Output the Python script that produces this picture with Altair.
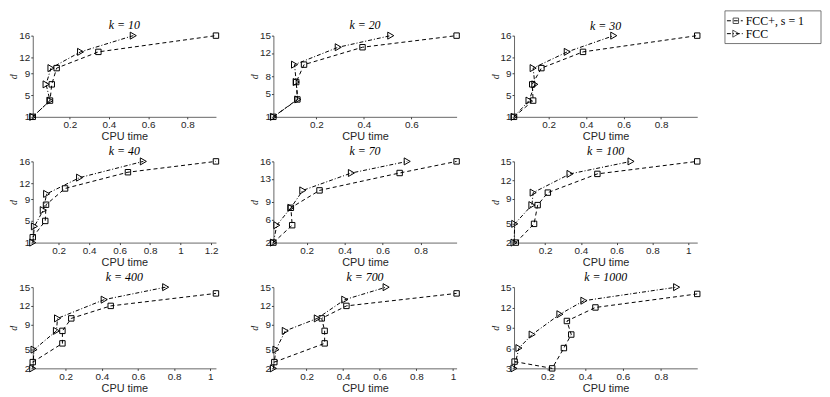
import altair as alt
import pandas as pd

# ---- data (CPU time vs d) ----
K_VALUES = [10, 20, 30, 40, 70, 100, 400, 700, 1000]

t_fccp_10 = [0.011, 0.099, 0.108, 0.133, 0.346, 0.946]
d_fccp_10 = [1, 4, 7, 10, 13, 16]
t_fcc_10 = [0.011, 0.099, 0.079, 0.104, 0.255, 0.524]
d_fcc_10 = [1, 4, 7, 10, 13, 16]

t_fccp_20 = [0.019, 0.120, 0.115, 0.148, 0.394, 0.790]
d_fccp_20 = [1, 4, 7, 10, 13, 15]
t_fcc_20 = [0.019, 0.122, 0.115, 0.108, 0.292, 0.513]
d_fcc_20 = [1, 4, 7, 10, 13, 15]

t_fccp_30 = [0.016, 0.118, 0.113, 0.162, 0.384, 0.993]
d_fccp_30 = [1, 4, 7, 10, 13, 16]
t_fcc_30 = [0.016, 0.096, 0.127, 0.118, 0.300, 0.548]
d_fcc_30 = [1, 4, 7, 10, 13, 16]

t_fccp_40 = [0.031, 0.113, 0.118, 0.243, 0.655, 1.232]
d_fccp_40 = [2, 5, 8, 11, 14, 16]
t_fcc_40 = [0.031, 0.042, 0.100, 0.122, 0.338, 0.756]
d_fcc_40 = [1, 4, 7, 10, 13, 16]

t_fccp_70 = [0.025, 0.124, 0.117, 0.268, 0.690, 0.990]
d_fccp_70 = [2, 5, 8, 11, 14, 16]
t_fcc_70 = [0.025, 0.043, 0.117, 0.180, 0.436, 0.730]
d_fcc_70 = [2, 5, 8, 11, 14, 16]

t_fccp_100 = [0.036, 0.138, 0.158, 0.215, 0.492, 1.050]
d_fccp_100 = [2, 5, 8, 10, 13, 15]
t_fcc_100 = [0.026, 0.030, 0.126, 0.133, 0.339, 0.680]
d_fcc_100 = [2, 5, 8, 10, 13, 15]

t_fccp_400 = [0.018, 0.182, 0.182, 0.231, 0.449, 1.031]
d_fccp_400 = [3, 6, 8, 10, 12, 14]
t_fcc_400 = [0.018, 0.025, 0.149, 0.155, 0.413, 0.753]
d_fcc_400 = [2, 5, 8, 10, 13, 15]

t_fccp_700 = [0.024, 0.299, 0.299, 0.283, 0.418, 1.020]
d_fccp_700 = [3, 6, 8, 10, 12, 14]
t_fcc_700 = [0.019, 0.033, 0.084, 0.259, 0.409, 0.635]
d_fcc_700 = [2, 5, 8, 10, 13, 15]

t_fccp_1000 = [0.026, 0.225, 0.287, 0.326, 0.303, 0.454, 0.993]
d_fccp_1000 = [4, 3, 6, 8, 10, 12, 14]
t_fcc_1000 = [0.023, 0.049, 0.119, 0.266, 0.393, 0.884]
d_fcc_1000 = [3, 6, 8, 11, 13, 15]

Y_TICKS = {
    10: [1, 5, 9, 12, 16],
    20: [1, 5, 8, 12, 15],
    30: [1, 5, 9, 12, 16],
    40: [1, 5, 9, 12, 16],
    70: [2, 6, 9, 13, 16],
    100: [2, 5, 9, 12, 15],
    400: [2, 5, 9, 12, 15],
    700: [2, 5, 9, 12, 15],
    1000: [3, 6, 9, 12, 15],
}

SERIES = {
    10: (t_fccp_10, d_fccp_10, t_fcc_10, d_fcc_10),
    20: (t_fccp_20, d_fccp_20, t_fcc_20, d_fcc_20),
    30: (t_fccp_30, d_fccp_30, t_fcc_30, d_fcc_30),
    40: (t_fccp_40, d_fccp_40, t_fcc_40, d_fcc_40),
    70: (t_fccp_70, d_fccp_70, t_fcc_70, d_fcc_70),
    100: (t_fccp_100, d_fccp_100, t_fcc_100, d_fcc_100),
    400: (t_fccp_400, d_fccp_400, t_fcc_400, d_fcc_400),
    700: (t_fccp_700, d_fccp_700, t_fcc_700, d_fcc_700),
    1000: (t_fccp_1000, d_fccp_1000, t_fcc_1000, d_fcc_1000),
}

PW, PH = 185, 82
LEG_TOP = -25
LX = 213  # legend box left, relative to the top-right panel's plot area


def legend_layers():
    one = pd.DataFrame({"a": [0]})
    base = alt.Chart(one)
    y1, y2 = LEG_TOP + 10, LEG_TOP + 23
    box = base.mark_rect(fill="white", stroke="#555555", strokeWidth=0.8).encode(
        x=alt.value(LX), x2=alt.value(LX + 97), y=alt.value(LEG_TOP), y2=alt.value(LEG_TOP + 33))
    l1 = base.mark_rule(color="black", strokeWidth=1, strokeDash=[4, 3]).encode(
        x=alt.value(LX + 2), x2=alt.value(LX + 18), y=alt.value(y1))
    m1 = base.mark_point(shape="square", filled=False, color="black", size=30, strokeWidth=1).encode(
        x=alt.value(LX + 11), y=alt.value(y1))
    l2 = base.mark_rule(color="black", strokeWidth=1, strokeDash=[4, 2, 1, 2]).encode(
        x=alt.value(LX + 2), x2=alt.value(LX + 18), y=alt.value(y2))
    m2 = base.mark_point(shape="triangle-right", filled=False, color="black", size=50, strokeWidth=1).encode(
        x=alt.value(LX + 11), y=alt.value(y2))
    t1 = base.mark_text(align="left", baseline="middle", font="Liberation Serif", fontSize=12, color="black").encode(
        x=alt.value(LX + 21), y=alt.value(y1), text=alt.value("FCC+, s = 1"))
    t2 = base.mark_text(align="left", baseline="middle", font="Liberation Serif", fontSize=12, color="black").encode(
        x=alt.value(LX + 21), y=alt.value(y2), text=alt.value("FCC"))
    return [box, l1, m1, l2, m2, t1, t2]


def panel(k, with_legend=False):
    tp, dp, tf, df = SERIES[k]
    rows = []
    for i, (t, d) in enumerate(zip(tp, dp)):
        rows.append({"series": "FCC+", "i": i, "t": t, "d": d})
    for i, (t, d) in enumerate(zip(tf, df)):
        rows.append({"series": "FCC", "i": i, "t": t, "d": d})
    data = pd.DataFrame(rows)
    xmin, xmax = min(tp + tf), max(tp + tf)
    xticks = [round(0.2 * j, 1) for j in range(1, 8) if 0.2 * j <= xmax + 1e-9]
    yt = Y_TICKS[k]
    x = alt.X("t:Q", scale=alt.Scale(domain=[xmin, xmax], nice=False, zero=False),
              axis=alt.Axis(values=xticks, format="~g", title="CPU time",
                            labelPadding=1, titlePadding=1))
    y = alt.Y("d:Q", scale=alt.Scale(domain=[min(yt), max(yt)], nice=False, zero=False),
              axis=alt.Axis(values=yt, title="d", titleFont="Liberation Serif",
                            titleFontStyle="italic", titleFontSize=10,
                            labelPadding=1, titlePadding=0))
    base = alt.Chart(data)
    p = base.transform_filter(alt.datum.series == "FCC+")
    f = base.transform_filter(alt.datum.series == "FCC")
    lp = p.mark_line(color="black", strokeWidth=1, strokeDash=[4, 3]).encode(x=x, y=y, order="i:Q")
    mp = p.mark_point(shape="square", filled=False, color="black", size=30, strokeWidth=1, opacity=1).encode(x=x, y=y)
    lf = f.mark_line(color="black", strokeWidth=1, strokeDash=[4, 2, 1, 2]).encode(x=x, y=y, order="i:Q")
    mf = f.mark_point(shape="triangle-right", filled=False, color="black", size=50, strokeWidth=1, opacity=1).encode(x=x, y=y)
    layers = [lp, lf, mp, mf]
    if with_legend:
        layers += legend_layers()
        title = alt.TitleParams(text=f"k = {k}", dy=2 - LEG_TOP)
    else:
        title = alt.TitleParams(text=f"k = {k}", dy=6)
    return alt.layer(*layers).properties(width=PW, height=PH, title=title)


panels = [panel(k, with_legend=(k == 30)) for k in K_VALUES]

chart = alt.concat(*panels, columns=3, spacing={"row": 45, "column": 58}, bounds="flush").properties(
    padding={"left": 0, "top": 0, "right": 0, "bottom": 0}
).configure_view(stroke=None).configure_axis(
    grid=False, domainColor="#404040", domainWidth=0.8, tickColor="#404040", tickSize=2,
    labelFont="Liberation Sans", labelFontSize=10, labelColor="#262626",
    titleFont="Liberation Sans", titleFontSize=11, titleFontWeight="normal", titleColor="#262626"
).configure_title(
    font="Liberation Serif", fontSize=12, fontStyle="italic", fontWeight="normal", color="black",
    offset=0, baseline="alphabetic"
)

chart.save("out.html", embed_options={"renderer": "svg", "actions": False})
